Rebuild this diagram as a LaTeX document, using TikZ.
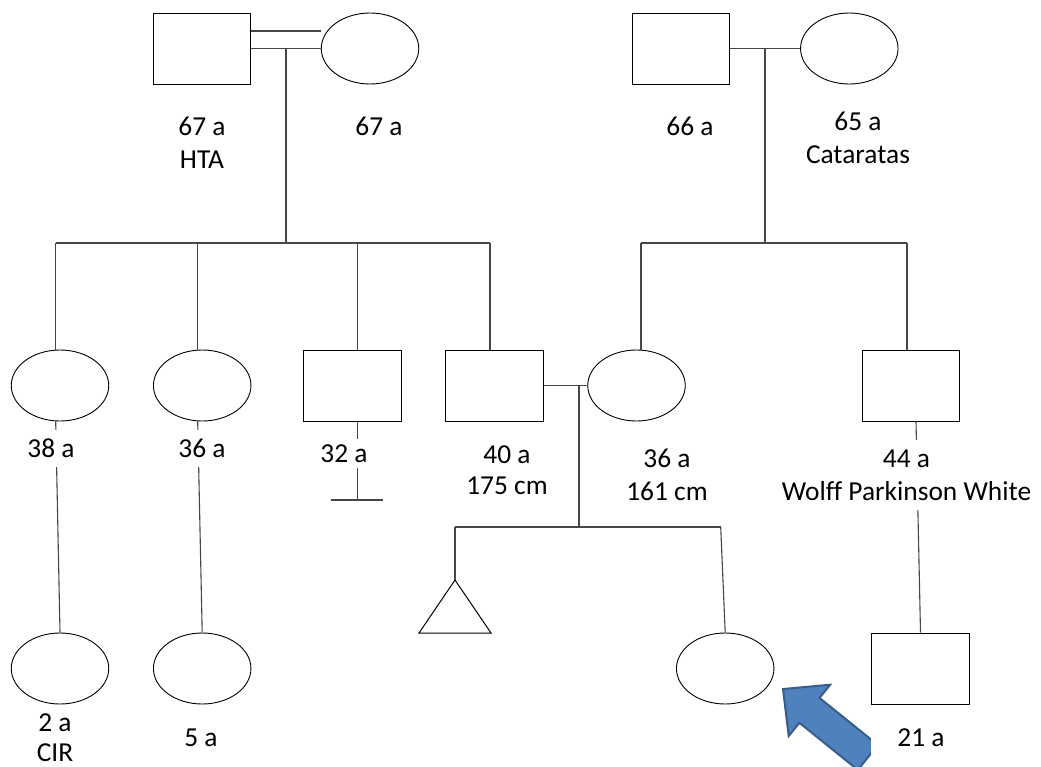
\documentclass[tikz,border=0pt]{standalone}
\usepackage{fontspec}
\setmainfont{Carlito}[Ligatures=NoCommon]
\usetikzlibrary{shapes.geometric}
\definecolor{linkgray}{RGB}{70,70,70}
\definecolor{arrowfill}{RGB}{79,129,189}
\definecolor{arrowdraw}{RGB}{56,93,138}
\begin{document}
\begin{tikzpicture}[x=1pt,y=-1pt,
  male/.style={draw=black,line width=1pt,rectangle,minimum width=97.5pt,minimum height=71pt,inner sep=0pt},
  female/.style={draw=black,line width=0.9pt,ellipse,minimum width=97.5pt,minimum height=71pt,inner sep=0pt},
  shapeline/.style={draw=black,line width=1pt,line join=miter},
  link/.style={draw=linkgray,line width=1.1pt},
  lbl/.style={font=\fontsize{27.4}{32}\selectfont,anchor=base,inner sep=0pt},
  lblw/.style={lbl,fill=white,text height=17pt,text depth=0pt,inner xsep=3pt,inner ysep=10pt},
  bigarrow/.style={fill=arrowfill,draw=arrowdraw,line width=2pt,line join=miter}]
\useasboundingbox[fill=white] (0,0) rectangle (1041,766);

% persons
\node[male] (gf1) at (202,48.5) {};
\node[female] (gm1) at (370,48.5) {};
\node[male] (gf2) at (680.8,48.5) {};
\node[female] (gm2) at (849.3,48.5) {};

\node[female] (a1) at (60,385.5) {};
\node[female] (a2) at (202.2,385.5) {};
\node[male] (u3) at (352.7,385.5) {};
\node[male] (f4) at (494.5,385.5) {};
\node[female] (m5) at (636.5,385.5) {};
\node[male] (u6) at (911.2,385.5) {};

\node[female] (c1) at (60,668.5) {};
\node[female] (c2) at (202.2,668.5) {};
\node[female] (prob) at (725.2,668.5) {};
\node[male] (c6) at (920.5,668.5) {};

\draw[shapeline] (455,580) -- (491,633) -- (419,633) -- cycle;
\coordinate (tri) at (455,580);

% junctions
\coordinate (m1) at (286,48.5);
\coordinate (s1) at (286,243);
\coordinate (s1a) at (55.7,243);
\coordinate (s1b) at (197.7,243);
\coordinate (s1c) at (357.3,243);
\coordinate (s1d) at (490,243);
\coordinate (m2) at (765,48.5);
\coordinate (s2) at (765,243);
\coordinate (s2a) at (641,243);
\coordinate (s2b) at (907,243);
\coordinate (m3) at (579,385.5);
\coordinate (s3) at (579,527);
\coordinate (s3a) at (455,527);
\coordinate (s3b) at (720.7,527);
\coordinate (u3end) at (357.3,500);
\coordinate (bar1) at (330.7,500);
\coordinate (bar2) at (383.3,500);
\coordinate (u6b) at (916,0);

% connectors
\draw[link] ([yshift=17.5pt]gf1.east) -- ([yshift=17.5pt]gm1.west);
\draw[link] (gf1.east) -- (gm1.west);
\draw[link] (m1) -- (s1);
\draw[link] (s1a) -- (s1d);
\draw[link] (s1a) -- (s1a |- a1.north);
\draw[link] (s1b) -- (s1b |- a2.north);
\draw[link] (s1c) -- (s1c |- u3.north);
\draw[link] (s1d) -- (s1d |- f4.north);

\draw[link] (gf2.east) -- (gm2.west);
\draw[link] (m2) -- (s2);
\draw[link] (s2a) -- (s2b);
\draw[link] (s2a) -- (s2a |- m5.north);
\draw[link] (s2b) -- (s2b |- u6.north);

\draw[link] (f4.east) -- (m5.west);
\draw[link] (m3) -- (s3);
\draw[link] (s3a) -- (s3b);
\draw[link] (s3a) -- (tri);
\draw[link] (s3b) -- (prob.north);

\draw[link] (s1a |- a1.south) -- (c1.north);
\draw[link] (s1b |- a2.south) -- (c2.north);
\draw[link] (s1c |- u3.south) -- (u3end);
\draw[link] (bar1) -- (bar2);
\draw[link] (u6b |- u6.south) -- (c6.north);

% labels
\node[lbl] (l1a) at (202,135) {67 a};
\node[lbl] (l1b) at (202,168) {HTA};
\node[lbl] (l2) at (379,135) {67 a};
\node[lbl] (l3) at (690,135) {66 a};
\node[lbl] (l4a) at (858,130) {65 a};
\node[lbl] (l4b) at (858,163) {Cataratas};

\node[lblw] (l5) at (51,457) {38 a};
\node[lblw] (l6) at (202,457) {36 a};
\node[lblw,inner ysep=6pt] (l7) at (344,462) {32 a};
\node[lbl] (l8a) at (507,463) {40 a};
\node[lbl] (l8b) at (507,494) {175 cm};
\node[lbl] (l9a) at (667,467) {36 a};
\node[lbl] (l9b) at (667,500) {161 cm};
\node[lblw] (l10a) at (906.5,467) {44 a};
\node[lblw] (l10b) at (906.5,500) {Wolff Parkinson White};

\node[lbl] (l11a) at (55,731) {2 a};
\node[lbl] (l11b) at (55,761) {CIR};
\node[lbl] (l12) at (201,746) {5 a};

% arrow pointing at the proband
\begin{scope}
\clip (0,0) rectangle (1041,766);
\draw[bigarrow] (783,689) -- (830.2,684.7) -- (819.5,697.9) -- (877.9,745) -- (857.8,769.9) -- (799.4,722.8) -- (788.7,736) -- cycle;
\end{scope}
\node[lblw,minimum width=100pt] (l13) at (921,746) {21 a};
\end{tikzpicture}
\end{document}
